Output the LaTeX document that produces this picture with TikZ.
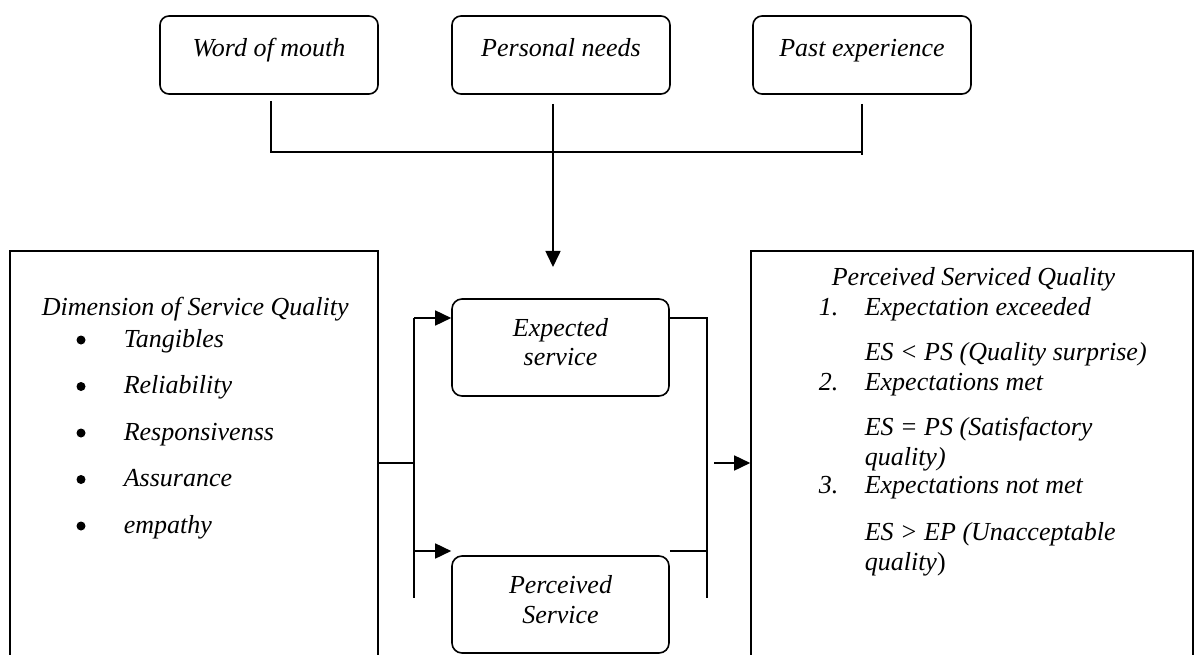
\documentclass[tikz,border=0pt]{standalone}
\usepackage{fontspec}
\setmainfont{Liberation Serif}
\usetikzlibrary{arrows.meta}
\begin{document}
\begin{tikzpicture}[x=1pt,y=-1pt, line width=1.6pt,
  rbox/.style={draw, rounded corners=9pt, inner sep=0pt, minimum width=218pt, minimum height=78pt},
  cbox/.style={draw, rounded corners=10pt, inner sep=0pt, minimum width=217pt, minimum height=97pt},
  sbox/.style={draw, inner sep=0pt},
  txt/.style={font=\fontsize{26}{30}\selectfont\itshape, anchor=base west, inner sep=0pt},
  ctxt/.style={txt, anchor=base},
  bul/.style={circle, fill, inner sep=0pt, minimum size=9pt},
  arr/.style={-{Triangle[length=16pt,width=15pt]}},
]
\useasboundingbox (0,0) rectangle (1197,655);
\clip (0,0) rectangle (1197,655);

% top boxes
\node[rbox] (wom) at (269,55) {};
\node[rbox] (pn) at (561,55) {};
\node[rbox] (pe) at (862,55) {};
\node[ctxt] (womt) at (269,57) {Word of mouth};
\node[ctxt] (pnt) at (561,57) {Personal needs};
\node[ctxt] (pet) at (862,57) {Past experience};

% top connectors
\coordinate (t1) at (271,101);
\coordinate (t1b) at (271,152);
\coordinate (t3) at (862,104);
\coordinate (t3b) at (862,155);
\coordinate (t2) at (553,104);
\coordinate (t2b) at (553,267);
\draw (t1) -- (t1b) -- (t1b -| t3);
\draw (t3) -- (t3b);
\draw[arr] (t2) -- (t2b);

% big boxes
\node[sbox, minimum width=368pt, minimum height=449pt] (lbox) at (194,475.5) {};
\node[sbox, minimum width=442pt, minimum height=449pt] (rbox) at (972,475.5) {};

% middle boxes
\node[cbox] (exp) at (560.5,347.5) {};
\node[cbox] (per) at (560.5,604.5) {};
\node[ctxt] (expt1) at (560.5,336) {Expected};
\node[ctxt] (expt2) at (560.5,365) {service};
\node[ctxt] (pert1) at (560.5,593) {Perceived};
\node[ctxt] (pert2) at (560.5,623) {Service};

% left connectors
\coordinate (jl) at (414,463);
\coordinate (ltop) at (414,318);
\coordinate (lmid2) at (414,551);
\coordinate (lbot) at (414,598);
\draw (jl -| lbox.east) -- (jl);
\draw (ltop) -- (lbot);
\draw[arr] (ltop) -- (ltop -| exp.west);
\draw[arr] (lmid2) -- (lmid2 -| per.west);

% right connectors
\coordinate (rtop) at (707,318);
\coordinate (rmid2) at (707,551);
\coordinate (rbot) at (707,598);
\coordinate (ra) at (714,463);
\draw (rtop -| exp.east) -- (rtop) -- (rbot);
\draw (rmid2 -| per.east) -- (rmid2);
\draw[arr] (ra) -- (ra -| rbox.west);

% left box text
\node[txt] (dimt) at (41,315) {Dimension of Service Quality};
\foreach \i/\t in {0/Tangibles,1/Reliability,2/Responsivenss,3/Assurance,4/empathy}{
  \node[bul] (b\i) at (81,{347+46.5*\i-7}) {};
  \node[txt] (it\i) at (123,{347+46.5*\i}) {\t};
}

% right box text
\node[txt] (pst) at (831,285) {Perceived Serviced Quality};
\node[txt] (n1) at (818,315) {1.};
\node[txt] (e1) at (864,315) {Expectation exceeded};
\node[txt] (s1) at (864,360) {ES < PS (Quality surprise)};
\node[txt] (n2) at (818,390) {2.};
\node[txt] (e2) at (864,390) {Expectations met};
\node[txt] (s2a) at (864,435) {ES = PS (Satisfactory};
\node[txt] (s2b) at (864,465) {quality)};
\node[txt] (n3) at (818,493) {3.};
\node[txt] (e3) at (864,493) {Expectations not met};
\node[txt] (s3a) at (864,540) {ES > EP (Unacceptable};
\node[txt] (s3b) at (864,570) {quality{\upshape)}};
\end{tikzpicture}
\end{document}
